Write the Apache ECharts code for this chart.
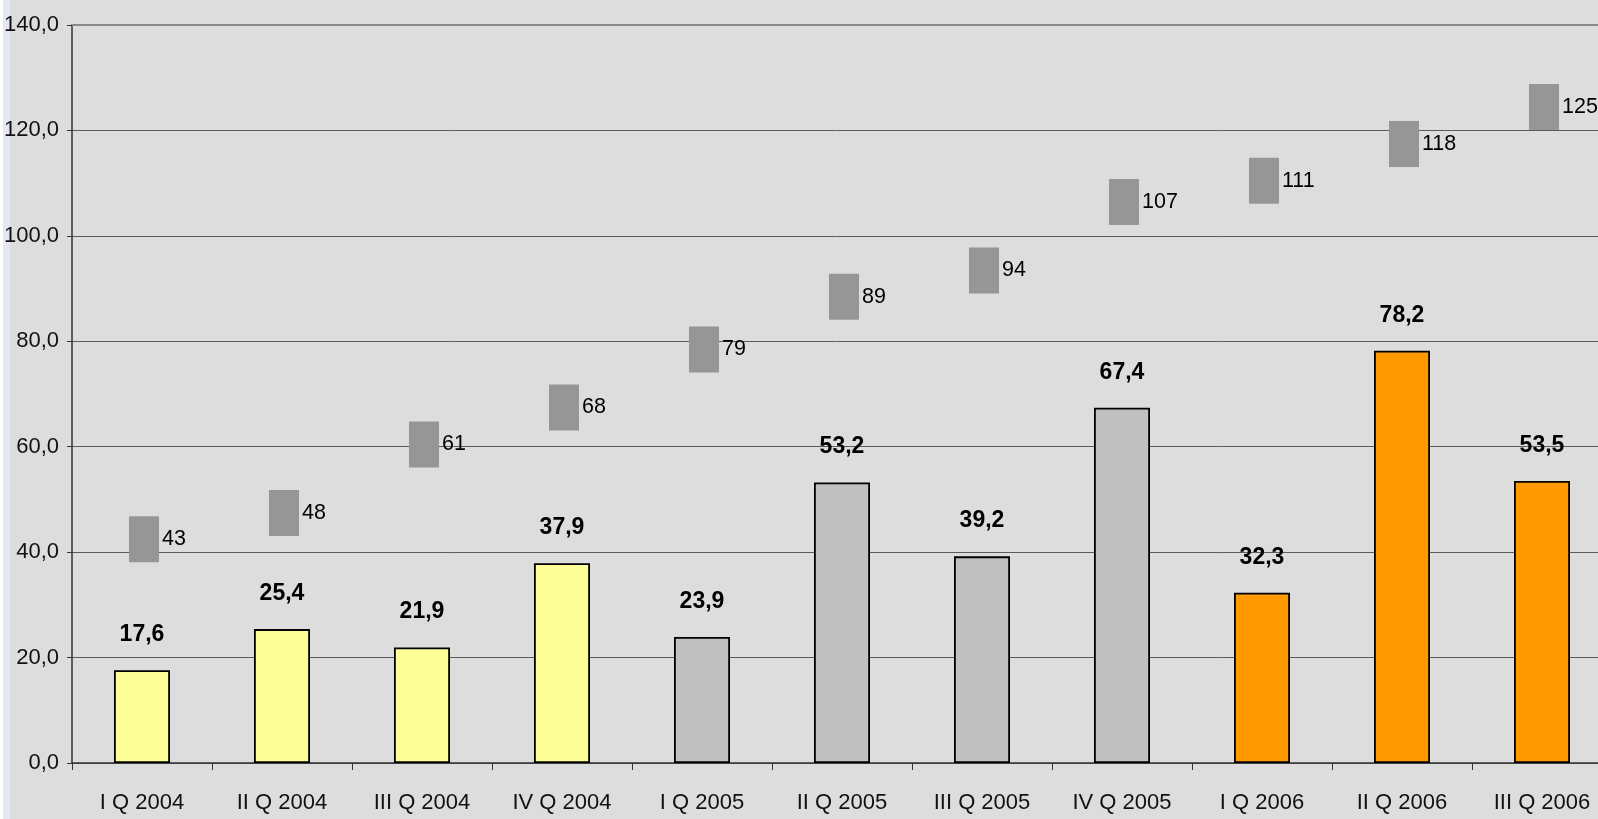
<!DOCTYPE html>
<html>
<head>
<meta charset="utf-8">
<title>Quarterly chart 2004–2006</title>
<script src="https://cdn.jsdelivr.net/npm/echarts@6/dist/echarts.min.js"></script>
<style>
  html, body { margin: 0; padding: 0; }
  body {
    width: 1598px; height: 819px; overflow: hidden;
    background: linear-gradient(to right, #ffffff 0 3px, #e3e8f2 3px 10px, #dddddd 10px);
  }
  #chart { width: 1598px; height: 819px; }
</style>
</head>
<body>
<div id="chart"></div>
<script>
// Quarters shown on the category axis
const categories = [
  'I Q 2004', 'II Q 2004', 'III Q 2004', 'IV Q 2004',
  'I Q 2005', 'II Q 2005', 'III Q 2005', 'IV Q 2005',
  'I Q 2006', 'II Q 2006', 'III Q 2006'
];
// Quarterly values (bars)
const quarterValues = [17.6, 25.4, 21.9, 37.9, 23.9, 53.2, 39.2, 67.4, 32.3, 78.2, 53.5];
// Running level shown by the grey square markers
const levelValues = [43, 48, 61, 68, 79, 89, 94, 107, 111, 118, 125];
// Value axis ticks
const yTicks = [0, 20, 40, 60, 80, 100, 120, 140];

// Bar fill per year
const yearFill = { '2004': '#FFFF99', '2005': '#C0C0C0', '2006': '#FF9900' };

const FONT = "'Liberation Sans', Arial, sans-serif";
const comma1 = v => Number(v).toFixed(1).replace('.', ',');

const chart = echarts.init(document.getElementById('chart'), null, { renderer: 'canvas' });

chart.setOption({
  backgroundColor: 'transparent',
  animation: false,
  grid: { left: 72, top: 25, bottom: 56, width: 1540, containLabel: false, outerBoundsMode: 'none' },
  xAxis: [
    {
      type: 'category',
      data: categories,
      boundaryGap: true,
      axisLine: { lineStyle: { color: '#333', width: 1.5 } },
      axisTick: { show: true, length: 7, lineStyle: { color: '#333', width: 1 } },
      axisLabel: {
        interval: 0, margin: 29,
        fontFamily: FONT, fontSize: 22, color: '#111'
      }
    },
    {
      // plain frame line along the top of the plot
      type: 'category',
      data: categories,
      position: 'top',
      axisLine: { show: true, lineStyle: { color: '#8a8a8a', width: 2 } },
      axisTick: { show: false },
      axisLabel: { show: false },
      splitLine: { show: false }
    }
  ],
  yAxis: {
    type: 'value',
    min: yTicks[0],
    max: yTicks[yTicks.length - 1],
    interval: yTicks[1] - yTicks[0],
    axisLine: { show: true, lineStyle: { color: '#333', width: 1.5 } },
    axisTick: { show: true, length: 5, lineStyle: { color: '#333' } },
    axisLabel: {
      margin: 13, fontFamily: FONT, fontSize: 22, color: '#111',
      formatter: v => comma1(v)
    },
    splitLine: { show: true, lineStyle: { color: '#5c5c5c', width: 1 } }
  },
  series: [
    {
      type: 'bar',
      data: quarterValues.map((v, i) => ({
        value: v,
        itemStyle: { color: yearFill[categories[i].slice(-4)] }
      })),
      barWidth: 56,
      itemStyle: { borderColor: '#000', borderWidth: 1.8 },
      label: {
        show: true, position: 'top', distance: 24,
        fontFamily: FONT, fontSize: 23, fontWeight: 'bold', color: '#000',
        formatter: p => comma1(p.value)
      },
      z: 2
    },
    {
      type: 'scatter',
      data: levelValues,
      symbol: 'rect',
      symbolSize: [30, 46],
      symbolOffset: [2, 3],
      itemStyle: { color: '#969696', opacity: 1 },
      label: {
        show: true, position: 'right', distance: 3,
        fontFamily: FONT, fontSize: 21.5, color: '#000',
        formatter: p => String(p.value)
      },
      z: 3
    }
  ]
});
</script>
</body>
</html>
